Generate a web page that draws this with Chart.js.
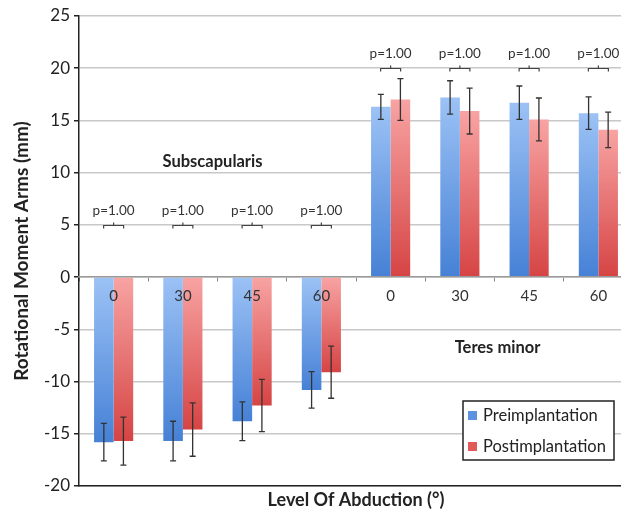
<!DOCTYPE html>
<html>
<head>
<meta charset="utf-8">
<script src="https://cdn.jsdelivr.net/npm/chart.js@4/dist/chart.umd.min.js"></script>
<style>
  html, body { margin: 0; padding: 0; background: #fff; overflow: hidden; }
  #wrap { width: 633px; height: 511px; position: relative; }
</style>
</head>
<body>
<div id="wrap"><canvas id="myChart"></canvas></div>
<script>
const categories = ["0", "30", "45", "60", "0", "30", "45", "60"];
const preValues = [-15.8, -15.7, -13.8, -10.8, 16.3, 17.2, 16.7, 15.7];
const preErrors = [1.8, 1.9, 1.85, 1.75, 1.2, 1.6, 1.6, 1.55];
const postValues = [-15.7, -14.6, -12.3, -9.1, 17.0, 15.9, 15.1, 14.1];
const postErrors = [2.3, 2.55, 2.5, 2.5, 2.0, 2.2, 2.05, 1.7];
const pLabels = ["p=1.00", "p=1.00", "p=1.00", "p=1.00", "p=1.00", "p=1.00", "p=1.00", "p=1.00"];
const bracketLevels = [5, 5, 5, 5, 20, 20, 20, 20];
const muscleNames = ["Subscapularis", "Teres minor"];

const FONT = "Lato, 'Open Sans', sans-serif";

function barFill(light, dark) {
  return function (ctx) {
    const y = ctx.chart.scales.y;
    if (ctx.type !== "data" || !y) return dark;
    const p0 = y.getPixelForValue(0);
    const p1 = y.getPixelForValue(ctx.raw);
    if (!isFinite(p0) || !isFinite(p1)) return dark;
    const top = Math.min(p0, p1), bottom = Math.max(p0, p1);
    if (bottom - top < 1) return dark;
    const g = ctx.chart.ctx.createLinearGradient(0, top, 0, bottom);
    g.addColorStop(0, light);
    g.addColorStop(1, dark);
    return g;
  };
}

// error bars, p-value brackets, muscle names and legend box
const extras = {
  id: "extras",
  afterDraw(chart) {
    const c = chart.ctx;
    const x = chart.scales.x, y = chart.scales.y;
    const errs = [preErrors, postErrors];
    const vals = [preValues, postValues];

    c.save();
    c.strokeStyle = "#333";
    c.lineWidth = 1.3;
    chart.data.datasets.forEach(function (ds, di) {
      chart.getDatasetMeta(di).data.forEach(function (bar, i) {
        const v = vals[di][i], e = errs[di][i];
        const yt = y.getPixelForValue(v + e), yb = y.getPixelForValue(v - e);
        c.beginPath();
        c.moveTo(bar.x, yt); c.lineTo(bar.x, yb);
        c.moveTo(bar.x - 3, yt); c.lineTo(bar.x + 3, yt);
        c.moveTo(bar.x - 3, yb); c.lineTo(bar.x + 3, yb);
        c.stroke();
      });
    });

    // brackets
    c.strokeStyle = "#444";
    c.lineWidth = 1.2;
    c.fillStyle = "#333";
    c.font = "13.5px " + FONT;
    c.textAlign = "center";
    c.textBaseline = "middle";
    categories.forEach(function (cat, i) {
      const cx = x.getPixelForValue(i);
      const by = Math.round(y.getPixelForValue(bracketLevels[i])) + 0.5;
      c.beginPath();
      c.moveTo(cx - 10, by + 3); c.lineTo(cx - 10, by);
      c.lineTo(cx + 10, by); c.lineTo(cx + 10, by + 3);
      c.moveTo(cx, by); c.lineTo(cx, by - 3);
      c.stroke();
      c.fillText(pLabels[i], cx, by - 15);
    });

    // muscle names
    c.font = "bold 16.5px " + FONT;
    c.fillStyle = "#222";
    const sx = (x.getPixelForValue(1) + x.getPixelForValue(2)) / 2 - 5;
    c.fillText(muscleNames[0], sx, y.getPixelForValue(11.1));
    const tx = (x.getPixelForValue(5) + x.getPixelForValue(6)) / 2 + 3;
    c.fillText(muscleNames[1], tx, y.getPixelForValue(-6.8));

    // legend box
    const lx = 463, ly = 401, lw = 151, lh = 59;
    c.fillStyle = "#fff";
    c.fillRect(lx, ly, lw, lh);
    c.strokeStyle = "#222";
    c.lineWidth = 1.5;
    c.strokeRect(lx, ly, lw, lh);
    c.font = "16.5px " + FONT;
    c.textAlign = "left";
    chart.data.datasets.forEach(function (ds, di) {
      const ry = ly + 15 + di * 31;
      c.fillStyle = ds.legendColor;
      c.fillRect(lx + 5, ry - 5, 9, 9);
      c.fillStyle = "#222";
      c.fillText(ds.label, lx + 20, ry);
    });
    c.restore();
  },
};

const ctx = document.getElementById("myChart").getContext("2d");
new Chart(ctx, {
  type: "bar",
  data: {
    labels: categories,
    datasets: [
      {
        label: "Preimplantation",
        data: preValues,
        backgroundColor: barFill("#9cc2f5", "#4681d6"),
        legendColor: "#5b93e0",
      },
      {
        label: "Postimplantation",
        data: postValues,
        backgroundColor: barFill("#f8a3a3", "#d64444"),
        legendColor: "#e05a5a",
      },
    ],
  },
  options: {
    responsive: true,
    maintainAspectRatio: false,
    animation: false,
    layout: { padding: { top: 16, left: 0, right: 0, bottom: 0 } },
    datasets: { bar: { barPercentage: 1, categoryPercentage: 0.565 } },
    plugins: {
      legend: { display: false },
      tooltip: { enabled: false },
    },
    scales: {
      x: {
        type: "category",
        position: { y: 0 },
        grid: { display: true, drawOnChartArea: false, tickLength: 4, color: "#888" },
        border: { display: true, color: "#999", width: 1.5, z: 1 },
        ticks: { color: "#333", font: { family: FONT, size: 15 }, padding: 6, z: 1 },
      },
      x2: {
        type: "linear",
        position: "bottom",
        min: 0,
        max: 1,
        grid: { display: false },
        border: { display: true, color: "#222", width: 1.5 },
        ticks: { display: false },
        title: {
          display: true,
          text: "Level Of Abduction (°)",
          color: "#222",
          font: { family: FONT, size: 18, weight: "bold" },
          padding: { top: 1, bottom: 0 },
        },
        afterFit: function (s) { s.height = 25; },
      },
      y: {
        min: -20,
        max: 25,
        ticks: { stepSize: 5, color: "#222", font: { family: FONT, size: 17 }, padding: 4 },
        grid: { color: "#c8c8c8", lineWidth: 1.5, tickLength: 5, tickColor: "#222" },
        border: { display: true, color: "#222", width: 1.5 },
        title: {
          display: true,
          text: "Rotational Moment Arms (mm)",
          color: "#222",
          font: { family: FONT, size: 19, weight: "bold" },
          padding: { top: 10, bottom: 0 },
        },
        afterFit: function (s) { s.width = 79; },
      },
    },
  },
  plugins: [extras],
});
</script>
</body>
</html>
